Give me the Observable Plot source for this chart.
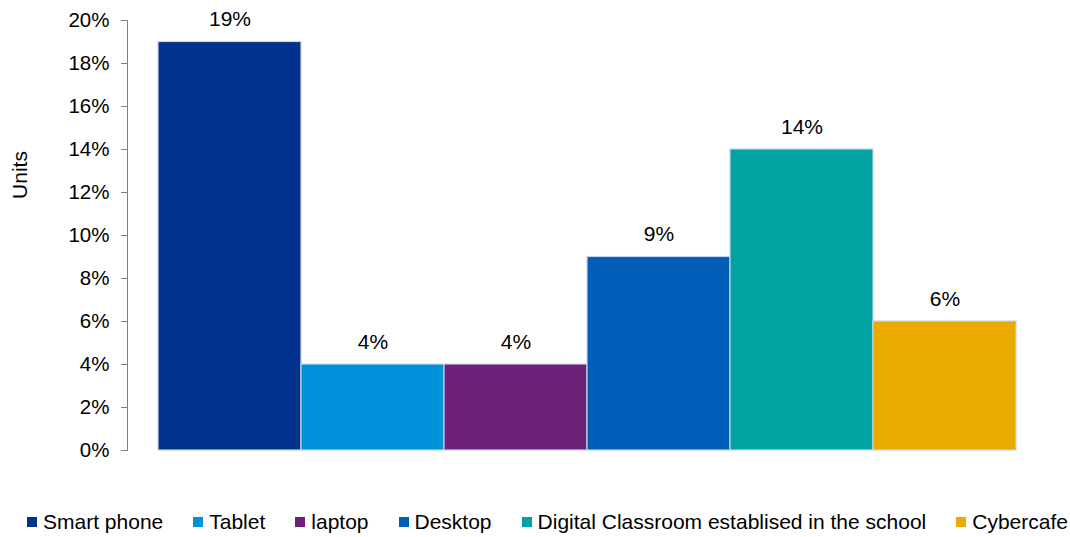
<!DOCTYPE html>
<html>
<head>
<meta charset="utf-8">
<script src="https://cdn.jsdelivr.net/npm/d3@7"></script>
<script src="https://cdn.jsdelivr.net/npm/@observablehq/plot@0.6"></script>
<style>
  body { margin: 0; background: #fff; font-family: "Liberation Sans", Arial, sans-serif; }
  #wrap { position: relative; width: 1070px; height: 537px; }
  #ylabel { position: absolute; left: 19px; top: 175px; transform: translate(-50%, -50%) rotate(-90deg); transform-origin: center; font-size: 21px; line-height: 1; color: #000; white-space: nowrap; }
  #legend { position: absolute; left: 27px; top: 510px; display: flex; align-items: center; font-size: 21px; line-height: 24px; color: #000; white-space: nowrap; }
  .item { display: flex; align-items: center; }
  .sw { width: 10px; height: 10px; margin-right: 6px; }
</style>
</head>
<body>
<div id="wrap">
  <div id="chart"></div>
  <div id="ylabel">Units</div>
  <div id="legend"></div>
</div>
<script>
const categories = ["Smart phone", "Tablet", "laptop", "Desktop", "Digital Classroom establised in the school", "Cybercafe"];
const values = [19, 4, 4, 9, 14, 6];
const colors = ["#00338D", "#0091DA", "#6D2077", "#005EB8", "#00A3A1", "#EAAA00"];
const yTicks = [0, 2, 4, 6, 8, 10, 12, 14, 16, 18, 20];

const data = categories.map((c, i) => ({category: c, value: values[i]}));

const chart = Plot.plot({
  width: 1070,
  height: 470,
  marginLeft: 127,
  marginRight: 23,
  marginTop: 20,
  marginBottom: 20,
  style: {fontFamily: "'Liberation Sans', Arial, sans-serif", fontSize: "20px", color: "#000", background: "#fff"},
  x: {domain: categories, paddingInner: 0, paddingOuter: 0.21, axis: null},
  y: {domain: [0, 20], ticks: yTicks, tickFormat: d => d + "%", label: null},
  color: {domain: categories, range: colors},
  marks: [
    Plot.barY(data, {x: "category", y: "value", fill: "category", stroke: "#c5d5ea", strokeWidth: 1.2}),
    Plot.text(data, {x: "category", y: "value", text: d => d.value + "%", lineAnchor: "bottom", dy: -16, fontSize: 21, fill: "#000"}),
    Plot.axisY({ticks: yTicks, tickFormat: d => d + "%", tickSize: 6, tickPadding: 12, stroke: "#808080", label: null, fontSize: 20.5}),
    Plot.frame({anchor: "left", stroke: "#808080"})
  ]
});
document.getElementById("chart").appendChild(chart);

const legend = document.getElementById("legend");
const gap = 30;
categories.forEach((c, i) => {
  const it = document.createElement("div");
  it.className = "item";
  if (i < categories.length - 1) it.style.marginRight = gap + "px";
  const sw = document.createElement("span");
  sw.className = "sw";
  sw.style.background = colors[i];
  const t = document.createElement("span");
  t.textContent = c;
  it.appendChild(sw);
  it.appendChild(t);
  legend.appendChild(it);
});
</script>
</body>
</html>
